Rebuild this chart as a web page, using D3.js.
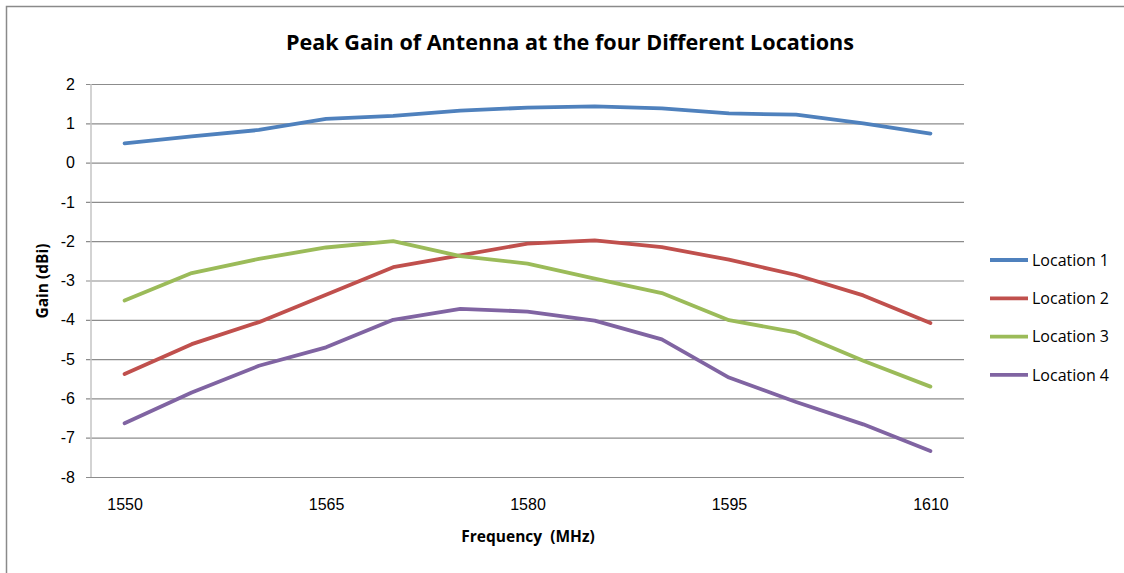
<!DOCTYPE html>
<html>
<head>
<meta charset="utf-8">
<script src="https://cdn.jsdelivr.net/npm/d3@7"></script>
<style>
  body { margin: 0; background: #fff; }
  svg { display: block; font-family: "Open Sans", "Noto Sans", sans-serif; }
</style>
</head>
<body>
<div id="chart"></div>
<script>
// Frequency points (MHz) and peak gain (dBi)
const frequencies = [1550, 1555, 1560, 1565, 1570, 1575, 1580, 1585, 1590, 1595, 1600, 1605, 1610];
const location1 = [0.49, 0.67, 0.83, 1.11, 1.19, 1.32, 1.40, 1.43, 1.38, 1.25, 1.22, 1.00, 0.74];
const location2 = [-5.38, -4.62, -4.06, -3.36, -2.66, -2.36, -2.06, -1.98, -2.15, -2.47, -2.86, -3.38, -4.08];
const location3 = [-3.51, -2.81, -2.45, -2.16, -2.00, -2.38, -2.57, -2.95, -3.32, -4.01, -4.32, -5.04, -5.70];
const location4 = [-6.63, -5.85, -5.17, -4.70, -4.00, -3.72, -3.79, -4.02, -4.50, -5.47, -6.09, -6.66, -7.34];
const seriesNames = ["Location 1", "Location 2", "Location 3", "Location 4"];
const xTickLabels = [1550, 1565, 1580, 1595, 1610];
const yTicks = [2, 1, 0, -1, -2, -3, -4, -5, -6, -7, -8];

const seriesValues = [location1, location2, location3, location4];
const colors = ["#4f81bd", "#c0504d", "#9bbb59", "#8064a2"];

const W = 1124, H = 573;
const margin = {top: 84, left: 91};
const width = 873, height = 393;

const svg = d3.select("#chart").append("svg")
    .attr("width", W)
    .attr("height", H);

// chart area border (runs off the right and bottom edge)
svg.append("rect")
    .attr("x", 6.5).attr("y", 6.5)
    .attr("width", W + 20).attr("height", H + 20)
    .attr("fill", "none")
    .attr("stroke", "#8a8a8a")
    .attr("stroke-width", 1.5);

svg.append("text")
    .attr("x", 570).attr("y", 50)
    .attr("text-anchor", "middle")
    .style("font-size", "21.6px")
    .style("font-weight", "bold")
    .text("Peak Gain of Antenna at the four Different Locations");

const g = svg.append("g")
    .attr("transform", `translate(${margin.left},${margin.top})`);

const x = d3.scalePoint()
    .domain(frequencies)
    .range([0, width])
    .padding(0.5);

const y = d3.scaleLinear()
    .domain([-8, 2])
    .range([height, 0]);

// horizontal gridlines + left ticks
const yAxis = g.append("g")
    .attr("transform", "translate(-5,0)")
    .call(d3.axisLeft(y).tickValues(yTicks).tickSize(-(width + 5)).tickPadding(11).tickFormat(d3.format("d")));
yAxis.select(".domain").remove();
yAxis.selectAll(".tick line").attr("stroke", "#8c8c8c").attr("stroke-width", 1.2);
yAxis.selectAll(".tick text")
    .style("font-size", "16px")
    .attr("fill", "#000")
    .text(d => d < 0 ? "-" + Math.abs(d) : d);

// vertical axis line
g.append("line")
    .attr("x1", 0).attr("x2", 0)
    .attr("y1", 0).attr("y2", height)
    .attr("stroke", "#c4c4c4")
    .attr("stroke-width", 1.5);

const xAxis = g.append("g")
    .attr("transform", `translate(0,${height})`)
    .call(d3.axisBottom(x).tickValues(xTickLabels).tickSize(0).tickPadding(22));
xAxis.select(".domain").remove();
xAxis.selectAll(".tick text")
    .style("font-size", "16px")
    .attr("fill", "#000");

const line = d3.line()
    .x((d, i) => x(frequencies[i]))
    .y(d => y(d));

g.selectAll(".series")
    .data(seriesValues)
    .join("path")
    .attr("class", "series")
    .attr("d", line)
    .attr("fill", "none")
    .attr("stroke", (d, i) => colors[i])
    .attr("stroke-width", 3.8)
    .attr("stroke-linejoin", "round")
    .attr("stroke-linecap", "round");

// axis titles
svg.append("text")
    .attr("transform", "translate(48,281) rotate(-90)")
    .attr("text-anchor", "middle")
    .style("font-size", "15.5px")
    .style("font-weight", "bold")
    .text("Gain (dBi)");

svg.append("text")
    .attr("x", 528).attr("y", 542)
    .attr("text-anchor", "middle")
    .style("font-size", "15.5px")
    .style("font-weight", "bold")
    .attr("xml:space", "preserve")
    .style("white-space", "pre")
    .text("Frequency  (MHz)");

// legend
const legend = svg.selectAll(".legend")
    .data(seriesNames)
    .join("g")
    .attr("class", "legend")
    .attr("transform", (d, i) => `translate(990,${260 + i * 38.3})`);

legend.append("line")
    .attr("x1", 0).attr("x2", 38)
    .attr("stroke", (d, i) => colors[i])
    .attr("stroke-width", 3.8);

legend.append("text")
    .attr("x", 42)
    .attr("dy", "0.35em")
    .style("font-size", "16px")
    .text(d => d);
</script>
</body>
</html>
